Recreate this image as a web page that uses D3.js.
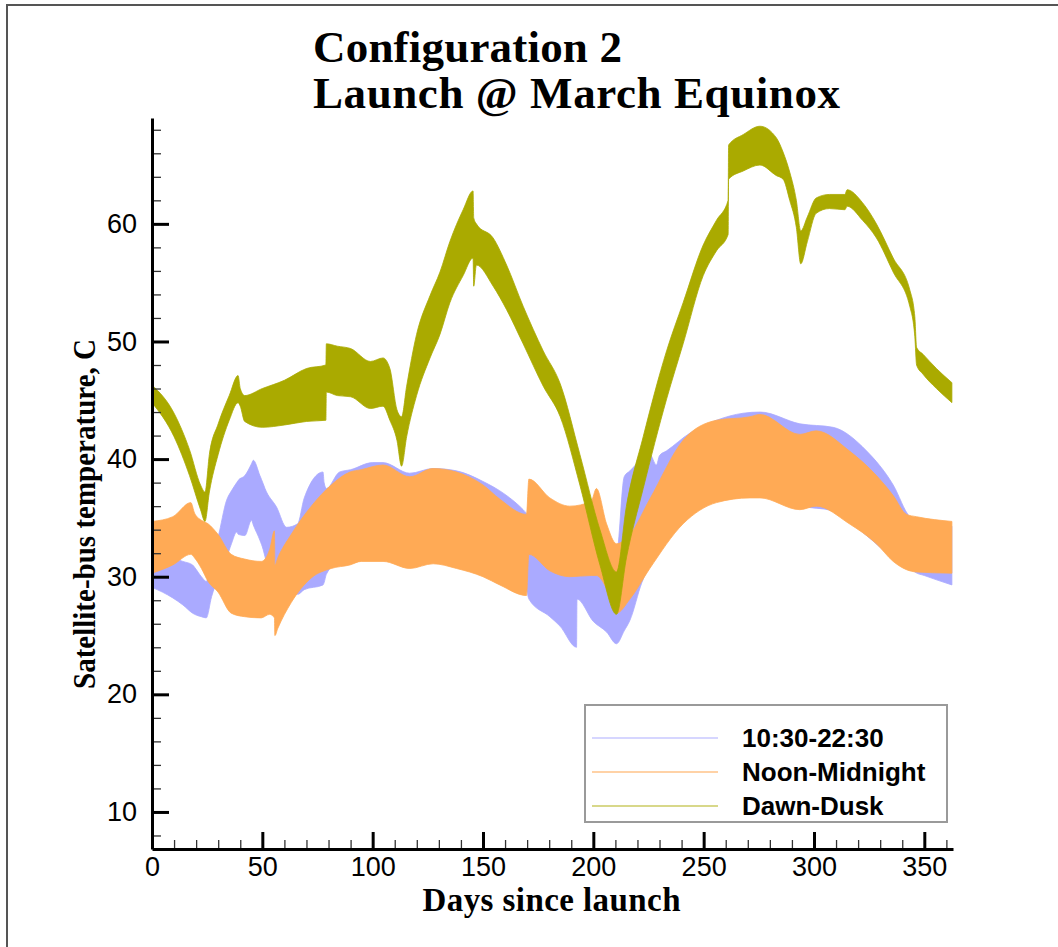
<!DOCTYPE html>
<html>
<head>
<meta charset="utf-8">
<script src="https://cdn.jsdelivr.net/npm/d3@7"></script>
<style>
  body { margin: 0; background: #fff; }
  svg { display: block; }
  .tick-label { font-family: "Liberation Sans", Arial, sans-serif; font-size: 27px; fill: #000; }
</style>
</head>
<body>
<div id="chart"></div>
<script>
var width = 1058;
var height = 947;
var margin = {"left": 152, "right": 105, "top": 118, "bottom": 98};

// Dawn-Dusk band (upper / lower envelope)
var dawnDays  = [0, 10, 17, 22, 24, 26, 30, 35, 39, 40, 42, 50, 60, 70, 78.8, 79, 84, 90, 99, 104.7,
                 107.8, 111, 113.1, 115.4, 119.9, 126, 130.5, 135, 141, 145.5, 145.8, 147, 154.6, 160.7, 168.2, 177.3, 185, 193.9, 203, 210.5,
                 215, 222.6, 233.2, 240.7, 249.8, 255.8, 261.1, 261.3, 268, 275.5, 283, 286, 289, 292, 294, 297, 301, 307, 314, 315,
                 322, 328.3, 335.9, 343.4, 345.7, 346.5, 349.5, 355.5, 362.5];
var dawnHigh  = [46.3, 43.9, 40.8, 37.8, 37.2, 40.4, 43.0, 45.4, 47.1, 46.0, 45.4, 46.0, 46.7, 47.7, 48.0, 49.8, 49.6, 49.4, 48.3, 48.6,
                 47.7, 44.2, 43.6, 46.2, 50.6, 53.9, 55.9, 58.5, 61.2, 62.8, 60.5, 60.0, 58.8, 56.5, 53.0, 49.2, 46.4, 40.4, 34.0, 30.4,
                 36.0, 41.9, 49.2, 53.3, 58.2, 60.3, 62.0, 66.7, 67.6, 68.3, 67.3, 66.1, 64.4, 62.0, 59.4, 60.6, 62.2, 62.5, 62.5, 62.9,
                 61.8, 60.0, 57.1, 54.4, 52.1, 49.5, 48.9, 47.7, 46.5];
var dawnLow   = [44.8, 41.9, 38.6, 35.7, 34.7, 37.2, 40.4, 43.3, 44.8, 44.5, 43.2, 42.7, 42.9, 43.2, 43.3, 45.7, 45.4, 45.3, 44.3, 44.5,
                 43.3, 41.6, 39.4, 41.9, 45.4, 48.6, 50.6, 53.3, 55.6, 57.1, 54.7, 56.5, 54.7, 52.7, 49.8, 46.2, 43.6, 37.8, 31.0, 26.8,
                 31.6, 37.5, 45.1, 49.8, 55.6, 57.7, 59.1, 63.8, 64.5, 65.0, 64.1, 63.8, 62.0, 59.7, 56.6, 58.5, 60.9, 61.3, 61.2, 61.5,
                 60.3, 58.8, 55.9, 53.0, 50.4, 48.0, 47.2, 46.0, 44.8];

// Noon-Midnight band
var noonDays  = [0, 9.4, 17.6, 19.3, 22.4, 25.4, 29.9, 35.9, 42, 49.5, 53.3, 55.5, 55.7, 57, 63.1, 72.2, 81.2, 89.7, 94.8, 104.7,
                 116.8, 127.4, 138, 150, 157.6, 169.7, 170.8, 180.3, 189.3, 199, 201.4, 206, 210.5, 216.6, 225.6, 240.7, 255.8, 271, 275.5, 293.6,
                 301, 316, 328.3, 335.9, 341.9, 346.5, 362.5];
var noonHigh  = [34.7, 35.1, 36.3, 35.4, 34.8, 34.5, 33.6, 31.9, 31.5, 31.3, 32.3, 33.9, 31.0, 31.6, 33.6, 36.0, 37.8, 38.9, 39.1, 39.5,
                 38.5, 39.2, 38.9, 37.8, 36.6, 35.3, 38.3, 36.7, 36.0, 36.4, 37.5, 34.5, 32.8, 33.6, 36.6, 41.6, 43.3, 43.6, 43.8, 42.1,
                 42.4, 40.7, 38.6, 36.9, 35.3, 35.1, 34.7];
var noonLow   = [30.3, 31.0, 31.9, 31.6, 30.7, 29.6, 28.7, 26.9, 26.6, 26.5, 26.8, 26.5, 25.0, 25.6, 27.8, 29.9, 30.7, 31.0, 31.3, 31.3,
                 30.7, 31.1, 30.7, 30.0, 29.3, 28.4, 31.9, 30.5, 30.0, 30.1, 30.1, 29.0, 26.9, 28.1, 30.7, 34.5, 36.3, 36.7, 36.7, 35.7,
                 36.0, 34.5, 32.8, 31.3, 30.6, 30.4, 30.3];

// 10:30-22:30 band
var morningDays = [0, 9.4, 14, 18.4, 19.3, 22.4, 24.6, 27, 30, 33.8, 36, 38.4, 39.1, 42.1, 45.1, 45.9, 48.9, 50.4, 51.2, 56.5,
                   61, 66, 69, 77.5, 78, 79, 85, 90, 100, 104.7, 116.8, 127.4, 138, 150, 160, 168.2, 169.7, 170.8, 180.3, 184.9,
                   192.4, 192.6, 200, 206, 210.5, 214, 216.6, 222, 225.6, 228.6, 230, 233.2, 243.7, 255.8, 267.9, 275.5, 293.6, 308.7, 323.8, 335.9,
                   343.4, 345.7, 350, 362.5];
var morningHigh = [32.0, 31.6, 31.3, 31.0, 30.8, 30.0, 29.6, 31.5, 33.4, 36.5, 37.3, 38.0, 38.2, 38.6, 39.6, 39.9, 38.6, 37.9, 37.5, 35.9,
                   34.2, 34.5, 36.7, 38.9, 38.0, 37.5, 38.9, 39.1, 39.7, 39.7, 38.8, 39.2, 39.0, 38.1, 37.0, 35.7, 35.4, 35.3, 35.5, 35.3,
                   35.0, 35.0, 35.0, 33.0, 32.0, 38.5, 39.0, 40.0, 40.4, 39.5, 40.3, 40.7, 42.2, 43.3, 43.9, 44.0, 43.0, 42.7, 40.7, 37.8,
                   35.1, 34.8, 34.6, 34.3];
var morningLow  = [29.1, 28.2, 27.6, 26.9, 26.8, 26.6, 26.5, 28.3, 29.9, 31.6, 32.8, 33.8, 33.6, 33.5, 34.8, 34.4, 33.1, 32.3, 31.7, 29.8,
                   28.8, 28.5, 28.9, 29.3, 29.5, 30.2, 31.3, 31.3, 31.6, 31.6, 31.0, 31.4, 31.0, 30.3, 29.7, 28.9, 28.8, 28.1, 26.6, 25.8,
                   24.0, 28.1, 26.2, 25.3, 24.3, 25.4, 26.3, 29.5, 31.0, 32.0, 32.5, 33.2, 35.2, 36.6, 37.0, 37.0, 36.0, 35.6, 33.5, 31.6,
                   30.8, 30.4, 30.1, 29.3];

var xMajorTicks = [0, 50, 100, 150, 200, 250, 300, 350];
var yMajorTicks = [10, 20, 30, 40, 50, 60];

var seriesNames  = ["10:30-22:30", "Noon-Midnight", "Dawn-Dusk"];
var seriesColors = ["#aaaaff", "#ffaa55", "#aaaa00"];
var legendColors = ["#d6d6ff", "#ffd2a6", "#d8d88a"];

/*
// Turns the three parallel arrays into rows the area generator can use
*/
function MakeRows(days, high, low)
{
  return days.map(function(d, i) {
    return {day: d, hi: high[i], lo: low[i]};
  });
}

var svg = d3.select("#chart").append("svg")
            .attr("width", width)
            .attr("height", height);

// frame line round the picture
svg.append("path")
   .attr("d", "M7,947 L7,5 L1058,5")
   .attr("fill", "none")
   .attr("stroke", "#555")
   .attr("stroke-width", 2);

var xScale = d3.scaleLinear()
               .domain([0, 363])
               .range([margin.left, width - margin.right]);

var yScale = d3.scaleLinear()
               .domain([6.85, 69.0])
               .range([height - margin.bottom, margin.top]);

var area = d3.area()
             .curve(d3.curveMonotoneX)
             .x(function(d) {return xScale(d.day);})
             .y0(function(d) {return yScale(d.lo);})
             .y1(function(d) {return yScale(d.hi);});

var bands = [MakeRows(morningDays, morningHigh, morningLow),
             MakeRows(noonDays, noonHigh, noonLow),
             MakeRows(dawnDays, dawnHigh, dawnLow)];

svg.append("g").selectAll("path")
   .data(bands)
   .enter().append("path")
   .attr("d", area)
   .attr("fill", function(d, i) {return seriesColors[i];})
   .attr("stroke", function(d, i) {return seriesColors[i];})
   .attr("stroke-width", 0.8);

// minor ticks first, then the major ones over them
var xMinor = d3.range(10, 361, 10).filter(function(v) {return v % 50 != 0;});
var yMinor = d3.range(8, 69, 2).filter(function(v) {return v % 10 != 0;});

var xAxisMinor = d3.axisBottom(xScale).tickValues(xMinor).tickSizeInner(-9).tickSizeOuter(0).tickFormat("");
var yAxisMinor = d3.axisLeft(yScale).tickValues(yMinor).tickSizeInner(-9).tickSizeOuter(0).tickFormat("");

var xAxis = d3.axisBottom(xScale).tickValues(xMajorTicks).tickSizeInner(-17).tickSizeOuter(0).tickPadding(8);
var yAxis = d3.axisLeft(yScale).tickValues(yMajorTicks).tickSizeInner(-17).tickSizeOuter(0).tickPadding(15);

var gxm = svg.append("g").attr("transform", "translate(0," + (height - margin.bottom) + ")").call(xAxisMinor);
var gym = svg.append("g").attr("transform", "translate(" + margin.left + ",0)").call(yAxisMinor);
[gxm, gym].forEach(function(g) {
  g.select(".domain").remove();
  g.selectAll("line").attr("stroke", "#333").attr("stroke-width", 1.3);
});

var gx = svg.append("g").attr("transform", "translate(0," + (height - margin.bottom) + ")").call(xAxis);
var gy = svg.append("g").attr("transform", "translate(" + margin.left + ",0)").call(yAxis);
[gx, gy].forEach(function(g) {
  g.select(".domain").attr("stroke", "#000").attr("stroke-width", 3);
  g.selectAll("line").attr("stroke", "#000").attr("stroke-width", 3);
  g.selectAll("text").attr("class", "tick-label").attr("font-family", null).attr("font-size", null);
});

// titles
var title = svg.append("text")
               .attr("font-family", "'Liberation Serif', 'Times New Roman', serif")
               .attr("font-weight", "bold")
               .attr("font-size", 45);
title.append("tspan").attr("x", 313).attr("y", 62).attr("textLength", 309).text("Configuration 2");
title.append("tspan").attr("x", 313).attr("y", 108).attr("textLength", 527).text("Launch @ March Equinox");

svg.append("text")
   .attr("x", (margin.left + width - margin.right) / 2 - 1)
   .attr("y", 911)
   .attr("text-anchor", "middle")
   .attr("font-family", "'Liberation Serif', 'Times New Roman', serif")
   .attr("font-weight", "bold")
   .attr("font-size", 33)
   .attr("textLength", 258)
   .text("Days since launch");

svg.append("text")
   .attr("transform", "translate(95,514) rotate(-90)")
   .attr("text-anchor", "middle")
   .attr("font-family", "'Liberation Serif', 'Times New Roman', serif")
   .attr("font-weight", "bold")
   .attr("font-size", 31)
   .attr("textLength", 350)
   .attr("lengthAdjust", "spacingAndGlyphs")
   .text("Satellite-bus temperature, C");

// legend box
var legend = svg.append("g").attr("transform", "translate(585,705)");
legend.append("rect")
      .attr("width", 362)
      .attr("height", 117)
      .attr("fill", "#fff")
      .attr("stroke", "#9a9a9a")
      .attr("stroke-width", 2);

var rows = legend.selectAll(".legend-row")
                 .data(seriesNames)
                 .enter().append("g")
                 .attr("class", "legend-row")
                 .attr("transform", function(d, i) {return "translate(0," + (33 + i * 34) + ")";});

rows.append("line")
    .attr("x1", 7).attr("x2", 133)
    .attr("stroke", function(d, i) {return legendColors[i];})
    .attr("stroke-width", 2);

rows.append("text")
    .attr("x", 157)
    .attr("y", 9)
    .attr("font-family", "'Liberation Sans', Arial, sans-serif")
    .attr("font-weight", "bold")
    .attr("font-size", 26)
    .text(function(d) {return d;});
</script>
</body>
</html>
